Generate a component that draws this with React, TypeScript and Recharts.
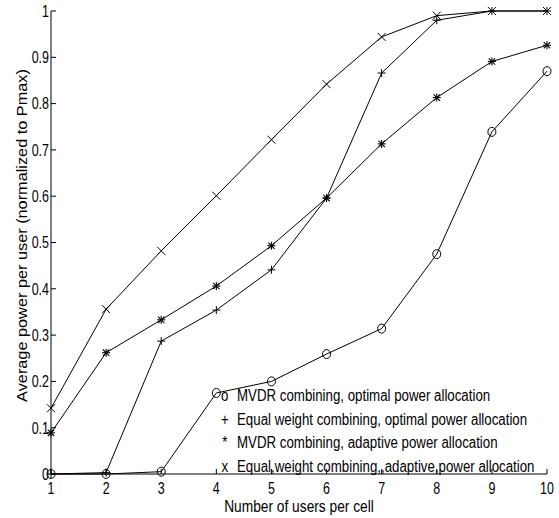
import React from "react";
import { LineChart, Line, XAxis, YAxis } from "recharts";

const users = [1, 2, 3, 4, 5, 6, 7, 8, 9, 10];
const mvdrOptimal = [0, 0, 0.005, 0.175, 0.2, 0.259, 0.314, 0.475, 0.739, 0.87];
const equalOptimal = [0, 0.003, 0.287, 0.354, 0.441, 0.596, 0.866, 0.98, 1.0, 1.0];
const mvdrAdaptive = [0.089, 0.262, 0.333, 0.406, 0.493, 0.596, 0.713, 0.813, 0.891, 0.926];
const equalAdaptive = [0.142, 0.356, 0.482, 0.601, 0.722, 0.842, 0.944, 0.99, 1.0, 1.0];

const xTicks = [1, 2, 3, 4, 5, 6, 7, 8, 9, 10];
const yTicks = [0, 0.1, 0.2, 0.3, 0.4, 0.5, 0.6, 0.7, 0.8, 0.9, 1];
const yTickLabels = ["0", "0.1", "0.2", "0.3", "0.4", "0.5", "0.6", "0.7", "0.8", "0.9", "1"];

const xLabel = "Number of users per cell";
const yLabel = "Average power per user (normalized to Pmax)";

type Marker = "o" | "+" | "*" | "x";
const series: { key: string; name: string; marker: Marker; values: number[] }[] = [
  { key: "mvdrOpt", name: "MVDR combining, optimal power allocation", marker: "o", values: mvdrOptimal },
  { key: "eqOpt", name: "Equal weight combining, optimal power allocation", marker: "+", values: equalOptimal },
  { key: "mvdrAd", name: "MVDR combining, adaptive power allocation", marker: "*", values: mvdrAdaptive },
  { key: "eqAd", name: "Equal,weight combining,,adaptive,power allocation", marker: "x", values: equalAdaptive },
];

const data = users.map((u, i) => {
  const row: Record<string, number> = { users: u };
  series.forEach((s) => (row[s.key] = s.values[i]));
  return row;
});

const FONT = "'Liberation Sans', Arial, Helvetica, sans-serif";
const INK = "#000";
const SQUEEZE = 0.83;

function NText({
  x,
  y,
  anchor,
  size,
  squeeze = SQUEEZE,
  children,
}: {
  x: number;
  y: number;
  anchor: string;
  size: number;
  squeeze?: number;
  children: any;
}) {
  return (
    <text
      transform={`translate(${x} ${y}) scale(${squeeze} 1)`}
      x={0}
      y={0}
      textAnchor={anchor}
      fontFamily={FONT}
      fontSize={size}
      fill={INK}
    >
      {children}
    </text>
  );
}

function MarkerShape({ cx, cy, marker }: { cx: number; cy: number; marker: Marker }) {
  if (cx == null || cy == null || isNaN(cx) || isNaN(cy)) return null;
  const r = 4;
  if (marker === "o") return <ellipse cx={cx} cy={cy} rx={4} ry={4.5} fill="none" stroke={INK} strokeWidth={1} />;
  if (marker === "+")
    return (
      <g stroke={INK} strokeWidth={1}>
        <line x1={cx - r} y1={cy} x2={cx + r} y2={cy} />
        <line x1={cx} y1={cy - r} x2={cx} y2={cy + r} />
      </g>
    );
  if (marker === "x")
    return (
      <g stroke={INK} strokeWidth={1}>
        <line x1={cx - r} y1={cy - r} x2={cx + r} y2={cy + r} />
        <line x1={cx - r} y1={cy + r} x2={cx + r} y2={cy - r} />
      </g>
    );
  return (
    <g stroke={INK} strokeWidth={1.1}>
      <line x1={cx - r} y1={cy} x2={cx + r} y2={cy} />
      <line x1={cx} y1={cy - r} x2={cx} y2={cy + r} />
      <line x1={cx - 3.2} y1={cy - 3.2} x2={cx + 3.2} y2={cy + 3.2} />
      <line x1={cx - 3.2} y1={cy + 3.2} x2={cx + 3.2} y2={cy - 3.2} />
    </g>
  );
}

const TICK_SIZE = 16;
const TICK_SQUEEZE = 0.78;

const BottomTick = (p: any) => (
  <g>
    <line x1={p.x} y1={p.y} x2={p.x} y2={p.y - 5} stroke={INK} strokeWidth={1} />
    <NText x={p.x} y={p.y + 20} anchor="middle" size={TICK_SIZE} squeeze={TICK_SQUEEZE}>
      {p.payload.value}
    </NText>
  </g>
);

const LeftTick = (p: any) => {
  const idx = yTicks.findIndex((t) => Math.abs(t - p.payload.value) < 1e-9);
  return (
    <g>
      <line x1={p.x} y1={p.y} x2={p.x + 5} y2={p.y} stroke={INK} strokeWidth={1} />
      <NText x={p.x - 2} y={p.y + 5.8} anchor="end" size={TICK_SIZE} squeeze={TICK_SQUEEZE}>
        {idx >= 0 ? yTickLabels[idx] : p.payload.value}
      </NText>
    </g>
  );
};

const TopTick = (p: any) => <line x1={p.x} y1={p.y} x2={p.x} y2={p.y + 5} stroke={INK} strokeWidth={1} />;
const RightTick = (p: any) => <line x1={p.x} y1={p.y} x2={p.x - 5} y2={p.y} stroke={INK} strokeWidth={1} />;

const XLabelContent = (p: any) => {
  const vb = p.viewBox || { x: 51, y: 474, width: 496, height: 44 };
  return (
    <NText x={vb.x + vb.width / 2} y={vb.y + vb.height - 6.5} anchor="middle" size={16} squeeze={0.86}>
      {xLabel}
    </NText>
  );
};

const YLabelContent = (p: any) => {
  const vb = p.viewBox || { x: 0, y: 11, width: 51, height: 463 };
  const cx = vb.x + 22;
  const cy = vb.y + vb.height / 2 - 7;
  return (
    <text
      transform={`translate(${cx} ${cy}) rotate(-90) scale(1 0.86)`}
      x={0}
      y={5.5}
      textAnchor="middle"
      fontFamily={FONT}
      fontSize={16.3}
      fill={INK}
    >
      {yLabel}
    </text>
  );
};

export default function App() {
  return (
    <div style={{ position: "absolute", left: 0, top: 0, width: 559, height: 518, background: "#fff" }}>
      <LineChart width={559} height={518} data={data} margin={{ top: 11, right: 12, bottom: 0, left: 0 }}>
        <XAxis
          dataKey="users"
          type="number"
          domain={[1, 10]}
          ticks={xTicks}
          interval={0}
          height={44}
          tickSize={0}
          tickMargin={0}
          tickLine={false}
          axisLine={{ stroke: INK, strokeWidth: 1 }}
          tick={BottomTick}
          label={{ value: xLabel, content: XLabelContent }}
        />
        <XAxis
          xAxisId="top"
          orientation="top"
          dataKey="users"
          type="number"
          domain={[1, 10]}
          ticks={xTicks}
          interval={0}
          height={0}
          tickSize={0}
          tickMargin={0}
          tickLine={false}
          axisLine={{ stroke: INK, strokeWidth: 1 }}
          tick={TopTick}
        />
        <YAxis
          type="number"
          domain={[0, 1]}
          ticks={yTicks}
          interval={0}
          width={51}
          tickSize={0}
          tickMargin={0}
          tickLine={false}
          axisLine={{ stroke: INK, strokeWidth: 1 }}
          tick={LeftTick}
          label={{ value: yLabel, content: YLabelContent }}
        />
        <YAxis
          yAxisId="right"
          orientation="right"
          type="number"
          domain={[0, 1]}
          ticks={yTicks}
          interval={0}
          width={0}
          tickSize={0}
          tickMargin={0}
          tickLine={false}
          axisLine={{ stroke: INK, strokeWidth: 1 }}
          tick={RightTick}
        />
        {series.map((s) => (
          <Line
            key={s.key}
            dataKey={s.key}
            type="linear"
            stroke={INK}
            strokeWidth={1}
            isAnimationActive={false}
            dot={(d: any) => <MarkerShape key={`${s.key}-${d.index}`} cx={d.cx} cy={d.cy} marker={s.marker} />}
            activeDot={false}
          />
        ))}
      </LineChart>
      <div
        style={{
          position: "absolute",
          left: 219,
          top: 384,
          fontFamily: FONT,
          fontSize: 16,
          lineHeight: "23.5px",
          color: INK,
          whiteSpace: "nowrap",
          transform: `scaleX(${SQUEEZE})`,
          transformOrigin: "0 0",
        }}
      >
        {series.map((s) => (
          <div key={s.key} style={{ display: "flex" }}>
            <span style={{ display: "inline-block", width: 14, textAlign: "center" }}>{s.marker}</span>
            <span style={{ marginLeft: 7.7 }}>{s.name}</span>
          </div>
        ))}
      </div>
    </div>
  );
}
